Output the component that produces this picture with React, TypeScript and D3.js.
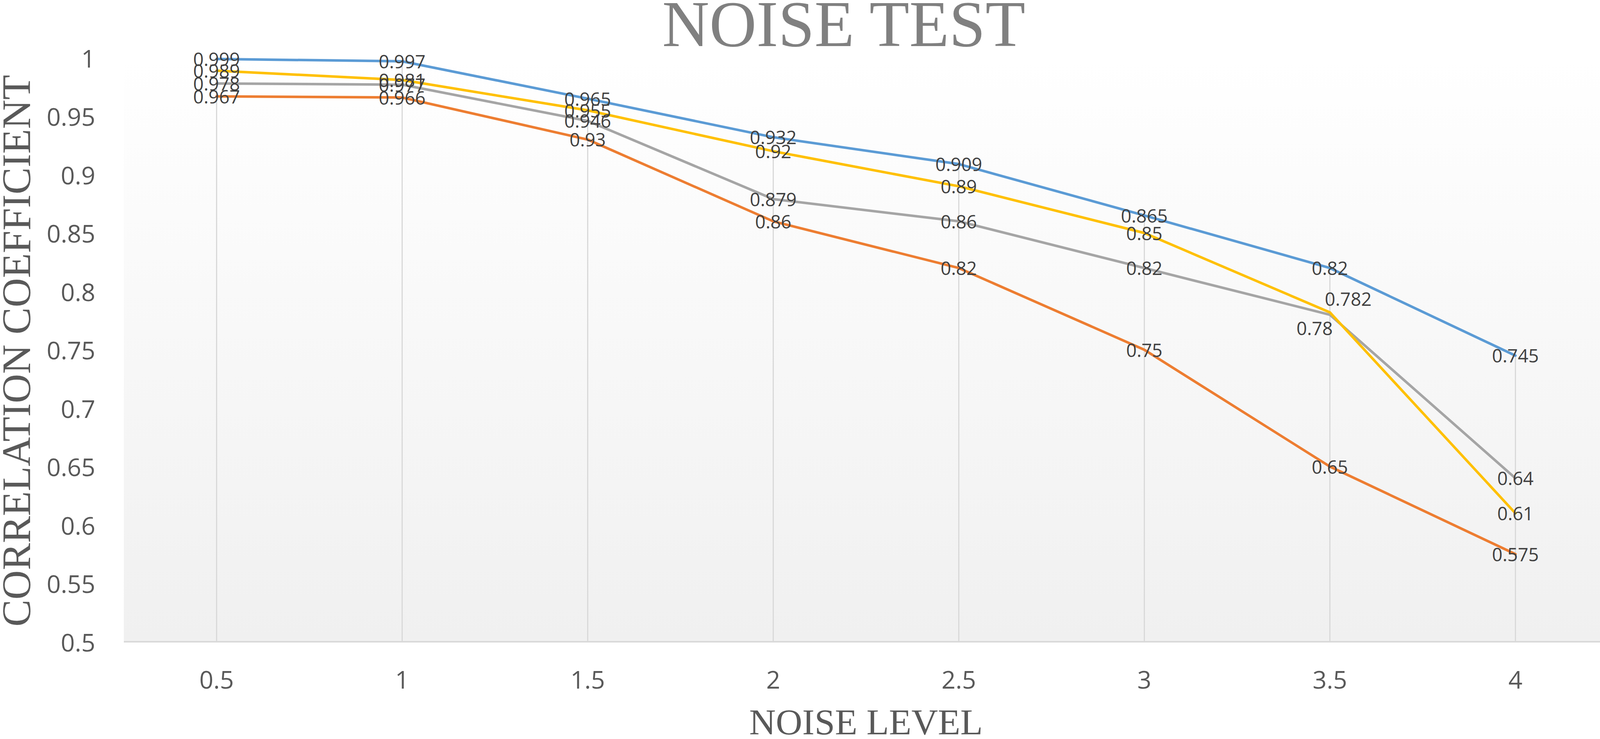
import * as d3 from "d3";

// Chart data
const noiseLevels = ["0.5", "1", "1.5", "2", "2.5", "3", "3.5", "4"];
const seriesNames = ["FGLGNSCCA", "L1-SCCA", "AGNSCCA", "FGLSCCA"];
const fglgnscca = [0.999, 0.997, 0.965, 0.932, 0.909, 0.865, 0.82, 0.745];
const l1scca = [0.967, 0.966, 0.93, 0.86, 0.82, 0.75, 0.65, 0.575];
const agnscca = [0.978, 0.977, 0.946, 0.879, 0.86, 0.82, 0.78, 0.64];
const fglscca = [0.989, 0.981, 0.955, 0.92, 0.89, 0.85, 0.782, 0.61];
const yTicks = [0.5, 0.55, 0.6, 0.65, 0.7, 0.75, 0.8, 0.85, 0.9, 0.95, 1];

const seriesColors = ["#5B9BD5", "#ED7D31", "#A5A5A5", "#FFC000"];

// a couple of labels were dragged off their points in the original
const labelNudge: Record<string, [number, number]> = {
  "AGNSCCA|3.5": [-39, 34],
  "FGLSCCA|3.5": [47, -35],
};

const width = 4563;
const height = 1892;
const plotLeft = 317;
const plotRight = 4117;
const plotTop = 148;
const plotBottom = 1643;

const sans = "'Open Sans', 'DejaVu Sans', sans-serif";
const serif = "'Liberation Serif', 'Times New Roman', serif";

export default function App() {
  const series = [fglgnscca, l1scca, agnscca, fglscca].map((values, i) => ({
    name: seriesNames[i],
    color: seriesColors[i],
    values,
  }));

  const x = d3.scalePoint<string>().domain(noiseLevels).range([plotLeft, plotRight]).padding(0.5);
  const y = d3.scaleLinear().domain([0.5, 1]).range([plotBottom, plotTop]);

  const line = d3
    .line<number>()
    .x((_, i) => x(noiseLevels[i])!)
    .y((d) => y(d));

  const fmt = d3.format("~g");

  // drop lines run from the highest point at each level to the axis
  const maxAt = noiseLevels.map((_, i) => d3.max(series, (s) => s.values[i])!);

  return (
    <svg
      width={width}
      height={height}
      style={{ position: "absolute", left: 0, top: 0, background: "#fff" }}
    >
      <defs>
        <linearGradient id="plotBg" x1="0" y1="0" x2="0" y2="1">
          <stop offset="0%" stopColor="#ffffff" />
          <stop offset="100%" stopColor="#f0f0f0" />
        </linearGradient>
      </defs>

      {/* plot area */}
      <rect
        x={plotLeft}
        y={plotTop}
        width={plotRight - plotLeft}
        height={plotBottom - plotTop}
        fill="url(#plotBg)"
      />

      {/* drop lines */}
      {noiseLevels.map((c, i) => (
        <line
          key={c}
          x1={x(c)}
          x2={x(c)}
          y1={y(maxAt[i])}
          y2={plotBottom}
          stroke="#d9d9d9"
          strokeWidth={3}
        />
      ))}

      {/* category axis line */}
      <line x1={plotLeft} x2={plotRight} y1={plotBottom} y2={plotBottom} stroke="#d9d9d9" strokeWidth={4} />

      {/* y tick labels */}
      {yTicks.map((t) => (
        <text
          key={t}
          x={244}
          y={y(t)}
          textAnchor="end"
          dominantBaseline="central"
          fontFamily={sans}
          fontSize={63}
          fill="#595959"
        >
          {fmt(t)}
        </text>
      ))}

      {/* x tick labels */}
      {noiseLevels.map((c) => (
        <text
          key={c}
          x={x(c)}
          y={1738}
          textAnchor="middle"
          dominantBaseline="central"
          fontFamily={sans}
          fontSize={63}
          fill="#595959"
        >
          {c}
        </text>
      ))}

      {/* series lines */}
      {series.map((s) => (
        <path
          key={s.name}
          d={line(s.values)!}
          fill="none"
          stroke={s.color}
          strokeWidth={6.5}
          strokeLinejoin="round"
          strokeLinecap="round"
        />
      ))}

      {/* data labels */}
      {series.map((s) =>
        s.values.map((v, i) => {
          const [dx, dy] = labelNudge[`${s.name}|${noiseLevels[i]}`] ?? [0, 0];
          return (
            <text
              key={`${s.name}-${i}`}
              x={x(noiseLevels[i])! + dx}
              y={y(v) + dy}
              textAnchor="middle"
              dominantBaseline="central"
              fontFamily={sans}
              fontSize={47}
              fill="#404040"
            >
              {fmt(v)}
            </text>
          );
        })
      )}

      {/* title */}
      <text x={2160} y={118} textAnchor="middle" fontFamily={serif} fontSize={167} fill="#808080">
        NOISE TEST
      </text>

      {/* axis titles */}
      <text
        x={(plotLeft + plotRight) / 2}
        y={1880}
        textAnchor="middle"
        fontFamily={serif}
        fontSize={94}
        fill="#595959"
      >
        NOISE LEVEL
      </text>
      <text
        transform={`translate(77, 898) rotate(-90)`}
        textAnchor="middle"
        fontFamily={serif}
        fontSize={104}
        fill="#595959"
      >
        CORRELATION COEFFICIENT
      </text>

      {/* legend */}
      {series.map((s, i) => {
        const ly = 872 + i * 99;
        return (
          <g key={s.name}>
            <line x1={4190} x2={4298} y1={ly} y2={ly} stroke={s.color} strokeWidth={6.5} strokeLinecap="round" />
            <text x={4311} y={ly} dominantBaseline="central" fontFamily={sans} fontSize={47} fill="#595959">
              {s.name}
            </text>
          </g>
        );
      })}
    </svg>
  );
}
